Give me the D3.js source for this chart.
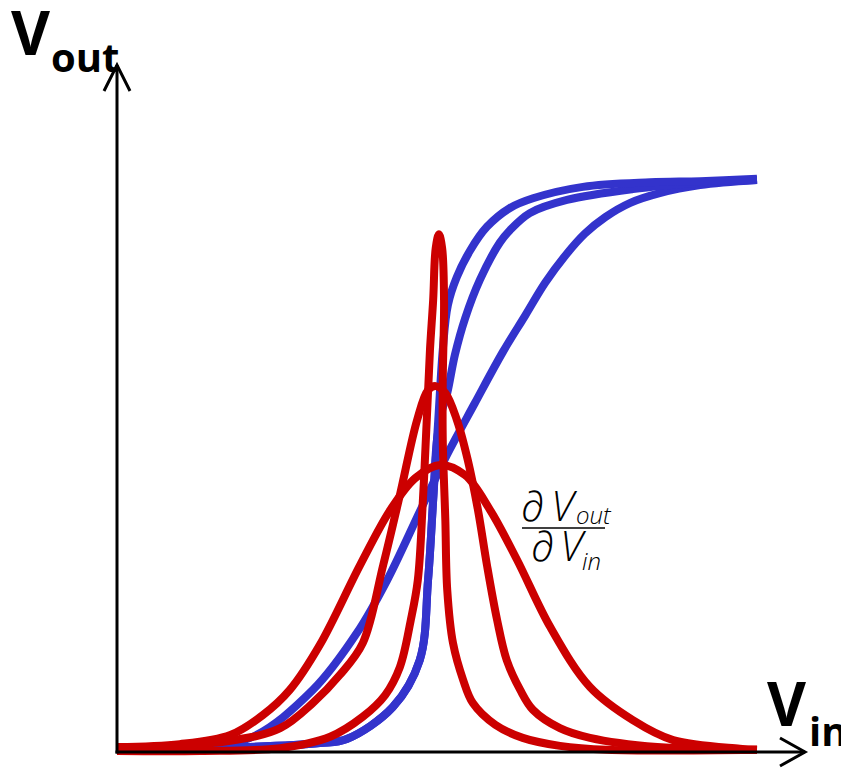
<!DOCTYPE html>
<html>
<head>
<meta charset="utf-8">
<script src="https://cdn.jsdelivr.net/npm/d3@7/dist/d3.min.js"></script>
<style>
  html, body { margin: 0; padding: 0; background: #fff; }
  svg { display: block; }
</style>
</head>
<body>
<svg id="chart" width="841" height="768"></svg>
<script>
// ---- data (arbitrary units) ----
const blueA = [[0,0.02],[2.08,0.07],[3.17,0.14],[3.59,0.21],[4.31,0.77],[4.73,1.59],[4.86,2.99],[4.94,4.40],[5.02,5.80],[5.09,7.02],[5.17,7.81],[5.31,8.30],[5.52,8.77],[5.78,9.18],[6.14,9.51],[6.50,9.68],[7.28,9.88],[8.33,9.96],[9.11,9.98],[10,10.02]];
const blueB = [[0,0.02],[2.08,0.07],[3.17,0.14],[3.59,0.21],[4.31,0.77],[4.73,1.59],[4.86,2.99],[4.94,4.40],[5.00,5.45],[5.08,5.97],[5.16,6.27],[5.28,6.94],[5.44,7.58],[5.67,8.25],[5.98,8.90],[6.14,9.12],[6.45,9.42],[7.03,9.65],[8.06,9.84],[9.11,9.95],[10,10]];
const blueC = [[0,0.02],[0.98,0.05],[2.08,0.23],[3.06,1.07],[3.75,2.07],[4.22,2.99],[4.73,4.19],[5.13,5.13],[5.59,6.09],[6.03,6.99],[6.38,7.63],[6.69,8.20],[7.00,8.67],[7.31,9.06],[7.63,9.35],[8.02,9.60],[8.48,9.77],[9.11,9.91],[10,10]];

const redWide = [[0,0.07],[0.98,0.12],[1.77,0.28],[2.28,0.63],[2.70,1.07],[3.17,1.86],[3.80,3.26],[4.27,4.22],[4.66,4.78],[5.05,5.01],[5.44,4.83],[5.83,4.22],[6.25,3.35],[6.77,2.17],[7.39,1.12],[8.06,0.54],[8.69,0.19],[9.73,0.04],[10,0.02]];
const redMid = [[0,0.05],[1.77,0.18],[2.55,0.40],[3.06,0.84],[3.48,1.33],[3.84,1.89],[4.16,3.26],[4.42,4.48],[4.69,5.80],[4.86,6.32],[4.98,6.39],[5.13,6.27],[5.31,5.80],[5.48,5.10],[5.64,4.22],[5.78,3.26],[5.94,2.29],[6.09,1.59],[6.30,1.07],[6.50,0.72],[6.92,0.40],[7.39,0.23],[8.44,0.07],[10,0.02]];
const redNarrow = [[0,0],[1.30,0],[2.55,0.05],[3.33,0.25],[3.84,0.60],[4.19,0.98],[4.42,1.47],[4.59,2.29],[4.70,2.99],[4.78,4.40],[4.84,5.80],[4.89,7.02],[4.94,7.90],[4.98,8.81],[5.03,9.05],[5.08,8.81],[5.11,7.90],[5.09,6.50],[5.09,5.45],[5.13,4.05],[5.16,2.82],[5.25,1.89],[5.41,1.24],[5.56,0.84],[5.91,0.46],[6.34,0.23],[6.92,0.09],[7.66,0.02],[10,0.02]];

const blueSeries = [blueC, blueB, blueA];
const redSeries = [redWide, redMid, redNarrow];

const yLabelMain = "V", yLabelSub = "out";
const xLabelMain = "V", xLabelSub = "in";
const fracTop = ["∂", "V", "out"];
const fracBottom = ["∂", "V", "in"];

// ---- drawing ----
const svg = d3.select("#chart");
const x = d3.scaleLinear().domain([0, 10]).range([117, 757]);
const y = d3.scaleLinear().domain([0, 10]).range([751, 180]);

const line = d3.line()
  .x(d => x(d[0])).y(d => y(d[1]))
  .curve(d3.curveCatmullRom.alpha(0.5));

const blue = "#3333cc", red = "#cc0000";

svg.append("g").selectAll("path").data(blueSeries).join("path")
  .attr("d", line).attr("fill", "none").attr("stroke", blue)
  .attr("stroke-width", 8).attr("stroke-linejoin", "round");

svg.append("g").selectAll("path").data(redSeries).join("path")
  .attr("d", line).attr("fill", "none").attr("stroke", red)
  .attr("stroke-width", 8).attr("stroke-linejoin", "round");

// axes with open arrowheads
const ax = svg.append("g").attr("stroke", "#000").attr("stroke-width", 3)
  .attr("fill", "none").attr("stroke-linecap", "butt");
const x0 = x(0), y0 = y(0) + 1;
ax.append("line").attr("x1", x0).attr("y1", y0 + 1.5).attr("x2", x0).attr("y2", 65);
ax.append("path").attr("d", `M${x0 - 13},${91} L${x0},${65} L${x0 + 13},${91}`)
  .attr("stroke-linejoin", "miter");
ax.append("line").attr("x1", x0 - 1.5).attr("y1", y0).attr("x2", 805).attr("y2", y0);
ax.append("path").attr("d", `M${780},${y0 - 14} L${805},${y0} L${780},${y0 + 14}`)
  .attr("stroke-linejoin", "miter");

// axis labels
const bold = "'Open Sans', 'DejaVu Sans', sans-serif";
const yl = svg.append("text").attr("x", 11).attr("y", 55)
  .attr("font-family", bold).attr("font-weight", 700).attr("font-size", 60).attr("fill", "#000");
yl.append("tspan").text(yLabelMain);
yl.append("tspan").attr("x", 51).attr("y", 72).attr("font-size", 40).text(yLabelSub);

const xl = svg.append("text").attr("x", 767).attr("y", 726)
  .attr("font-family", bold).attr("font-weight", 700).attr("font-size", 60).attr("fill", "#000");
xl.append("tspan").text(xLabelMain);
xl.append("tspan").attr("x", 809).attr("y", 746).attr("font-size", 40).text(xLabelSub);

// derivative fraction
const light = "'Open Sans', 'DejaVu Sans', sans-serif";
const fg = svg.append("g").attr("font-family", light).attr("font-weight", 300).attr("fill", "#000");
fg.append("text").attr("x", 521).attr("y", 521).attr("font-size", 42).text(fracTop[0]);
fg.append("text").attr("x", 551).attr("y", 521).attr("font-size", 42).attr("font-style", "italic").text(fracTop[1]);
fg.append("text").attr("x", 576).attr("y", 524).attr("font-size", 24).attr("font-style", "italic").text(fracTop[2]);
svg.append("line").attr("x1", 522).attr("x2", 605).attr("y1", 528).attr("y2", 528)
  .attr("stroke", "#000").attr("stroke-width", 1.5);
fg.append("text").attr("x", 531).attr("y", 561).attr("font-size", 42).text(fracBottom[0]);
fg.append("text").attr("x", 560).attr("y", 561).attr("font-size", 42).attr("font-style", "italic").text(fracBottom[1]);
fg.append("text").attr("x", 582).attr("y", 570).attr("font-size", 24).attr("font-style", "italic").text(fracBottom[2]);
</script>
</body>
</html>
